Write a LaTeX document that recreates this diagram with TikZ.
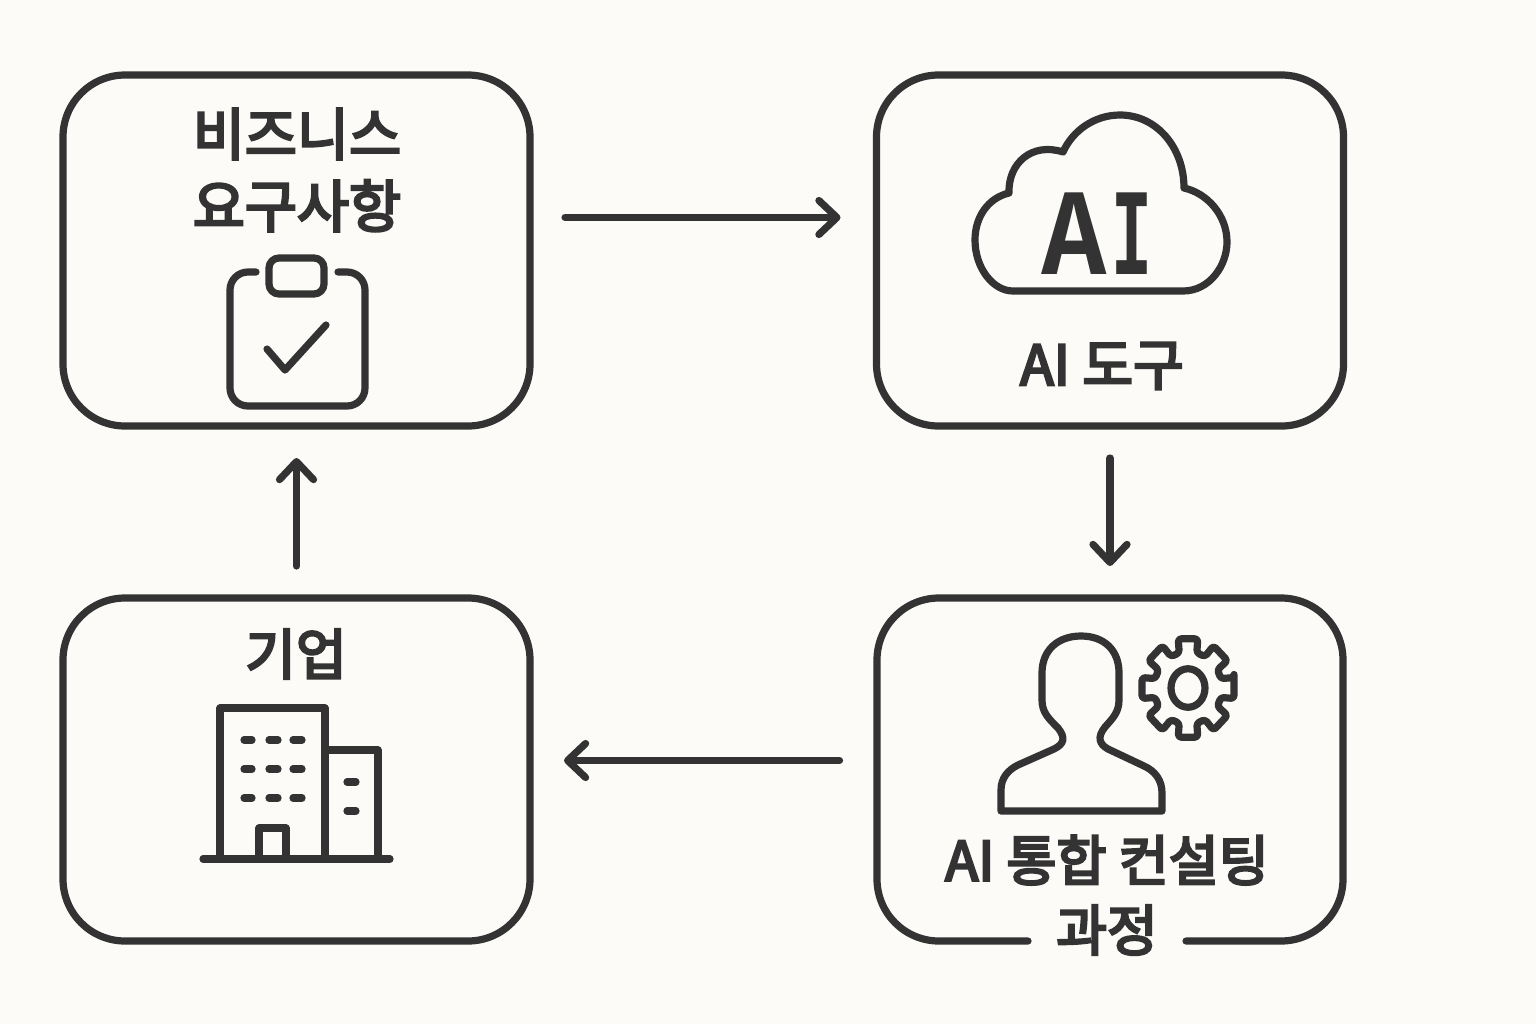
\documentclass[tikz,border=0pt]{standalone}
\usepackage{fontspec}
\usepackage{graphicx}
\setmainfont{Noto Sans CJK KR}[FakeBold=4.5]
\newfontfamily\aifont{Liberation Mono}
\usetikzlibrary{arrows.meta}
\definecolor{ink}{HTML}{333333}
\definecolor{paper}{HTML}{FCFBF8}
\tikzset{
  x=.5pt,y=-.5pt,
  ink line/.style={draw=ink,line width=3.6pt,line join=round,line cap=round},
  box/.style={rectangle,rounded corners=31pt,ink line,minimum width=233.5pt,outer sep=0pt,inner sep=0pt},
  upper/.style={box,minimum height=175.5pt},
  lower/.style={box,minimum height=171.5pt},
  label/.style={text=ink,font=\fontsize{27.6}{36}\selectfont,inner sep=0pt,align=center},
  flow/.style={ink line,-{Straight Barb[length=9pt,width=17pt,line width=3.6pt,round]}},
}
\begin{document}
\begin{tikzpicture}
\fill[paper] (0,0) rectangle (1536,1024);
\useasboundingbox (0,0) rectangle (1536,1024);

% boxes
\node[upper] (req) at (296.5,250.5) {};
\node[upper] (tool) at (1110,250.5) {};
\node[lower] (corp) at (296.5,769.5) {};
\node[lower,draw=none] (proc) at (1110,769.5) {};
\draw[ink line,rounded corners=31pt] (1028,941) -- (877,941) -- (877,598) -- (1343,598) -- (1343,941) -- (1186,941);

% labels
\node[label,font=\fontsize{28.3}{36}\selectfont] (reqlabel) at (297,170) {비즈니스\\요구사항};
\node[label] (toollabel) at (1102,366) {AI 도구};
\node[label] (corplabel) at (296,654) {기업};
\node[label,font=\fontsize{27.2}{36}\selectfont] (proclabel1) at (1107,860) {AI 통합 컨설팅};
\node[label] (proclabel2) at (1107,930) {과정};

% connectors
\draw[flow,shorten <=17.5pt,shorten >=18pt] ([yshift=16.5pt]req.east) -- ([yshift=16.5pt]tool.west);
\draw[flow,shorten <=16pt,shorten >=16pt] (tool.south) -- (proc.north);
\draw[flow,shorten <=18.5pt,shorten >=17pt] ([yshift=4.5pt]proc.west) -- ([yshift=4.5pt]corp.east);
\draw[flow,shorten <=16pt,shorten >=16pt] (corp.north) -- (req.south);

% clipboard
\draw[ink line,rounded corners=9pt] (256,272) -- (230,272) -- (230,406) -- (365,406) -- (365,272) -- (338,272);
\draw[ink line,rounded corners=5pt] (269,258) rectangle (324,294);
\draw[ink line] (267,349) -- (285,370) -- (326,325);

% cloud
\draw[ink line] (1013,291) -- (1183,291)
  .. controls (1210,291) and (1227,265) .. (1227,242)
  .. controls (1227,215) and (1207,193) .. (1184,188)
  .. controls (1184,148) and (1157,115) .. (1120,115)
  .. controls (1095,115) and (1073,130) .. (1063,152)
  .. controls (1032,142) and (1008,163) .. (1009,193)
  .. controls (988,198) and (975,217) .. (975,240)
  .. controls (975,268) and (993,291) .. (1013,291) -- cycle;
\node[text=ink,font=\aifont\fontsize{62}{62}\selectfont,inner sep=0pt] (cloudai) at (1097,234) {\scalebox{.88}[1]{\textbf{A}}\kern2pt\scalebox{.55}[1]{\textbf{I}}};

% person
\draw[ink line] (1001,811) -- (1001,790)
  .. controls (1001,778) and (1008,770) .. (1018,765)
  -- (1054,749)
  .. controls (1064,744) and (1066,738) .. (1058,728)
  .. controls (1048,718) and (1042,712) .. (1042,700)
  -- (1042,673)
  .. controls (1042,650) and (1058,636) .. (1081,636)
  .. controls (1104,636) and (1119,650) .. (1119,673)
  -- (1119,700)
  .. controls (1119,712) and (1113,718) .. (1105,727)
  .. controls (1097,737) and (1099,744) .. (1108,749)
  -- (1144,766)
  .. controls (1155,771) and (1162,780) .. (1162,793)
  -- (1162,811) -- cycle;

% gear
\begin{scope}[shift={(1188,688)},yscale=1.07]
\draw[ink line,rounded corners=1.5pt] (-12:47)
  \foreach \a in {0,45,...,315} { -- (\a-12:47) -- (\a+12:47) -- (\a+15:34) -- (\a+30:34) }
  -- cycle;
\draw[ink line] (0,0) ellipse [x radius=17,y radius=18];
\end{scope}

% building
\draw[ink line] (203,859) -- (390,859);
\draw[ink line] (220,859) -- (220,708) -- (325,708) -- (325,859);
\draw[ink line] (325,750) -- (378,750) -- (378,859);
\draw[ink line] (259,859) -- (259,828) -- (286,828) -- (286,859);
\foreach \yy in {740,769,798} {
  \foreach \xa/\xb in {244/252,269/278,293/302} {
    \draw[ink line] (\xa,\yy) -- (\xb,\yy);
  }
}
\draw[ink line] (347,782) -- (356,782);
\draw[ink line] (347,811) -- (356,811);
\end{tikzpicture}
\end{document}
